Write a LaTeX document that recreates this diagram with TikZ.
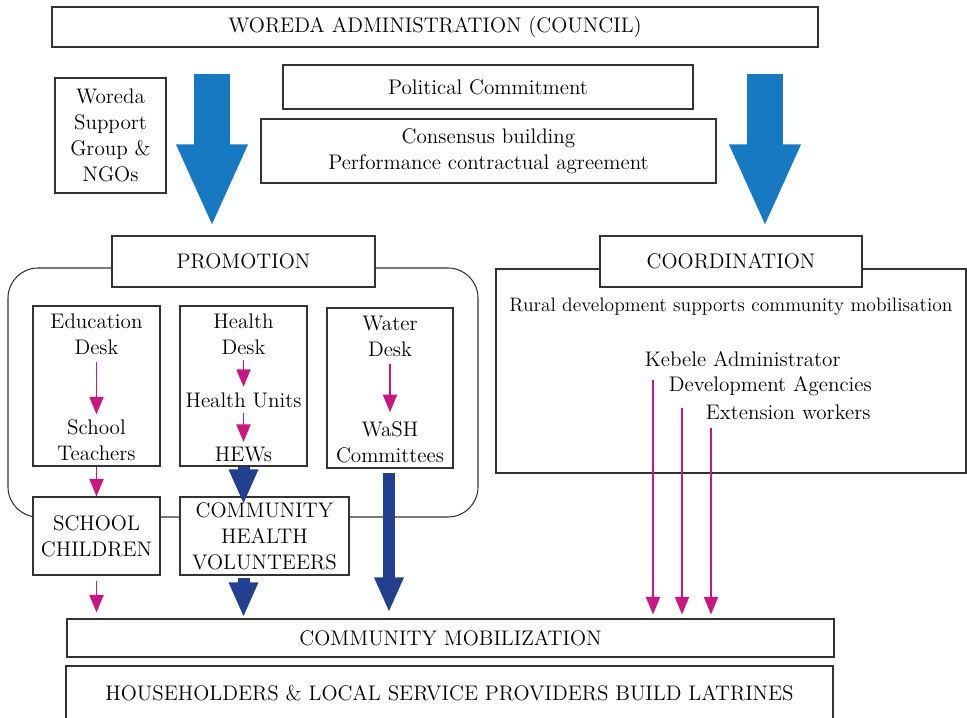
\documentclass[tikz,border=0pt]{standalone}
\usepackage{tikz}
\usetikzlibrary{arrows.meta,positioning,calc}
\definecolor{niebieski}{HTML}{1779C1}
\definecolor{granat}{HTML}{233F8F}
\definecolor{rozowy}{HTML}{C8177F}

\begin{document}
\begin{tikzpicture}[font=\fontsize{12}{14.8}\selectfont]
\tikzset{
    %ramka
    ramka/.style={
           rectangle, draw=black!80, line width=0.6pt,
           fill=white, inner sep=2pt, align=center},
    %tekst w ramce
    napis/.style={align=center, inner sep=2pt},
    %strzalki
    bigarrow/.style={niebieski, line width=0.72cm,
           -{Triangle[length=1.66cm, width=1.30cm]}},
    darkarrow/.style={granat, line width=0.24cm,
           -{Triangle[length=0.70cm, width=0.54cm]}},
    pinkarrow/.style={rozowy, line width=1.1pt,
           -{Triangle[length=0.35cm, width=0.28cm]}}
}
\useasboundingbox (0,0) rectangle (19.34,-14.36);
%\draw[help lines,lightgray] (0,0) grid (19,-14);

%Pola
\draw[black!80, line width=0.6pt, rounded corners=6mm] (0.16,-5.36) rectangle (9.56,-10.34);
\draw[black!80, line width=0.6pt] (9.92,-5.38) rectangle (19.32,-9.46);

%Gora
\node[ramka, minimum width=15.32cm, minimum height=0.80cm] (woreda) at (8.70,-0.54) {WOREDA ADMINISTRATION (COUNCIL)};
\node[ramka, minimum width=8.20cm, minimum height=0.88cm] (political) at (9.76,-1.74) {Political Commitment};
\node[ramka, minimum width=9.10cm, minimum height=1.28cm] (consensus) at (9.77,-3.02) {Consensus building\\Performance contractual agreement};
\node[ramka, minimum width=2.22cm, minimum height=2.30cm] (support) at (2.21,-2.71) {Woreda\\Support\\Group \&\\NGOs};

%Promocja
\node[ramka, minimum width=5.26cm, minimum height=1.02cm] (promotion) at (4.87,-5.23) {PROMOTION};
\node[ramka, minimum width=2.54cm, minimum height=3.20cm] (edubox) at (1.93,-7.72) {};
\node[ramka, minimum width=2.54cm, minimum height=3.20cm] (healthbox) at (4.87,-7.72) {};
\node[ramka, minimum width=2.52cm, minimum height=3.20cm] (waterbox) at (7.80,-7.76) {};

\node[napis] (edesk)   at (1.93,-6.68) {Education\\Desk};
\node[napis] (teach)   at (1.93,-8.81) {School\\Teachers};
\node[napis] (hdesk)   at (4.87,-6.68) {Health\\Desk};
\node[napis] (units)   at (4.87,-8.00) {Health Units};
\node[napis] (hews)    at (4.87,-9.10) {HEWs};
\node[napis] (wdesk)   at (7.80,-6.72) {Water\\Desk};
\node[napis] (wash)    at (7.80,-8.84) {WaSH\\Committees};

\node[ramka, minimum width=2.54cm, minimum height=1.56cm] (children) at (1.93,-10.72) {SCHOOL\\CHILDREN};
\node[ramka, minimum width=3.38cm, minimum height=1.56cm] (chv) at (5.29,-10.72) {COMMUNITY\\HEALTH\\VOLUNTEERS};

%Koordynacja
\node[ramka, minimum width=5.24cm, minimum height=1.02cm] (coordination) at (14.62,-5.23) {COORDINATION};
\node[napis, font=\fontsize{11.1}{13}\selectfont] (rural) at (14.62,-6.14) {Rural development supports community mobilisation};
\node[napis, anchor=west] (kebele) at (12.82,-7.18) {Kebele Administrator};
\node[napis, anchor=west] (devag)  at (13.30,-7.72) {Development Agencies};
\node[napis, anchor=west] (extens) at (14.04,-8.24) {Extension workers};

%Dol
\node[ramka, minimum width=15.34cm, minimum height=0.76cm] (commob) at (9.01,-12.76) {COMMUNITY MOBILIZATION};
\node[ramka, minimum width=15.34cm, minimum height=1.10cm] (build) at (8.99,-13.87) {HOUSEHOLDERS \& LOCAL SERVICE PROVIDERS BUILD LATRINES};

%Strzalki
\coordinate (lft) at (4.24,0);
\coordinate (rgt) at (15.30,0);
\coordinate (wsh) at (7.78,0);
\draw[bigarrow, shorten <=0.52cm, shorten >=0.16cm] (woreda.south -| lft) -- (promotion.north -| lft);
\draw[bigarrow, shorten <=0.52cm, shorten >=0.16cm] (woreda.south -| rgt) -- (coordination.north -| rgt);

\draw[pinkarrow, shorten <=2pt, shorten >=1pt] (edesk) -- (teach);
\draw[pinkarrow, shorten <=1pt, shorten >=1pt] (hdesk) -- (units);
\draw[pinkarrow, shorten <=1pt, shorten >=1pt] (units) -- (hews);
\draw[pinkarrow, shorten <=2pt, shorten >=3pt] (wdesk) -- (wash);
\draw[pinkarrow] (edubox.south) -- (children.north);
\draw[pinkarrow, shorten <=0.10cm, shorten >=0.12cm] (children.south) -- (children.south |- commob.north);

\draw[darkarrow, shorten >=-0.16cm] (hews.south |- healthbox.south) -- (hews.south |- chv.north);
\draw[darkarrow, shorten <=0.04cm, shorten >=0.02cm] (chv.south -| hews.south) -- (hews.south |- commob.north);
\draw[darkarrow, shorten <=0.08cm, shorten >=0.12cm] (waterbox.south -| wsh) -- (wsh |- commob.north);

\draw[pinkarrow, shorten <=0.20cm, shorten >=0.08cm] ([xshift=0.24cm]kebele.south west) -- ([xshift=0.24cm]kebele.south west |- commob.north);
\draw[pinkarrow, shorten <=0.16cm, shorten >=0.08cm] ([xshift=0.34cm]devag.south west) -- ([xshift=0.34cm]devag.south west |- commob.north);
\draw[pinkarrow, shorten <=0.10cm, shorten >=0.08cm] ([xshift=0.18cm]extens.south west) -- ([xshift=0.18cm]extens.south west |- commob.north);
\end{tikzpicture}
\end{document}
